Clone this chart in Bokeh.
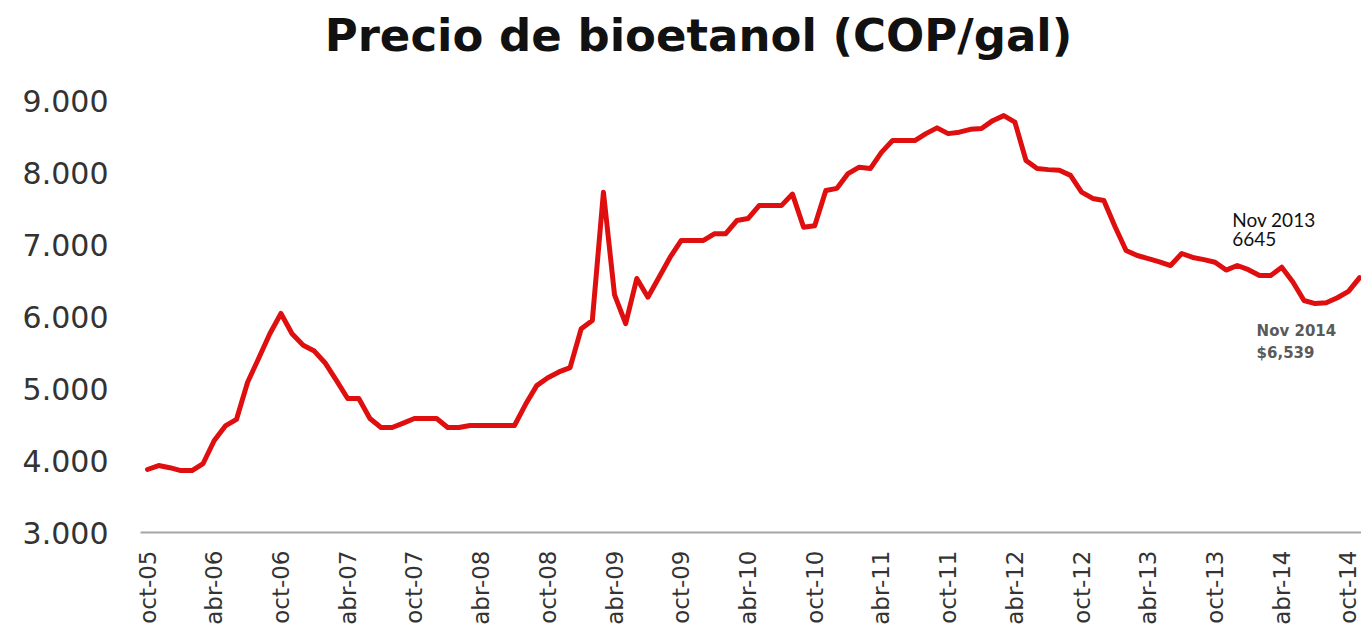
from bokeh.plotting import figure
from bokeh.models import Range1d, FixedTicker, Label
from bokeh.embed import file_html
from bokeh.resources import INLINE

# Monthly bioethanol price (COP/gal), oct-05 .. nov-14
precio = [
    3875, 3930, 3900, 3860, 3860, 3958, 4278, 4480, 4570, 5087,
    5420, 5760, 6042, 5760, 5600, 5520, 5350, 5110, 4861, 4861,
    4583, 4458, 4458, 4520, 4583, 4583, 4583, 4458, 4458, 4486,
    4486, 4486, 4486, 4486, 4780, 5040, 5150, 5230, 5290, 5830,
    5944, 7727, 6300, 5900, 6528, 6268, 6546, 6824, 7056, 7056,
    7056, 7150, 7150, 7333, 7360, 7540, 7540, 7540, 7700, 7240,
    7260, 7750, 7780, 7985, 8074, 8055, 8280, 8444, 8444, 8444,
    8540, 8620, 8540, 8560, 8600, 8611, 8720, 8790, 8700, 8167,
    8055, 8040, 8030, 7960, 7727, 7640, 7611, 7250, 6917, 6847,
    6805, 6760, 6708, 6875, 6820, 6790, 6754, 6645, 6708, 6650,
    6569, 6569, 6685, 6480, 6222, 6180, 6190, 6260, 6350, 6539,
]
meses = list(range(len(precio)))

x_tick_pos = list(range(0, 109, 6))
x_tick_labels = ["oct-05", "abr-06", "oct-06", "abr-07", "oct-07", "abr-08",
                 "oct-08", "abr-09", "oct-09", "abr-10", "oct-10", "abr-11",
                 "oct-11", "abr-12", "oct-12", "abr-13", "oct-13", "abr-14",
                 "oct-14"]
y_ticks = [3000, 4000, 5000, 6000, 7000, 8000, 9000]
y_tick_labels = ["3.000", "4.000", "5.000", "6.000", "7.000", "8.000", "9.000"]

titulo = "Precio de bioetanol (COP/gal)"
nota_2013 = ["Nov 2013", "6645"]
nota_2014 = ["Nov 2014", "$6,539"]
idx_2013 = 97
idx_2014 = 109

# frame spans the full height; the space above 9.000 holds the title
p = figure(width=1361, height=638, output_backend="svg", toolbar_location=None,
           x_range=Range1d(-0.63, 109.17), y_range=Range1d(3000, 10389),
           min_border_left=140, min_border_right=0, min_border_top=0,
           min_border_bottom=106)
p.outline_line_color = None
p.xgrid.grid_line_color = None
p.ygrid.grid_line_color = None
p.background_fill_color = "white"
p.border_fill_color = "white"

p.line(meses, precio, line_color="#E00F0F", line_width=5, line_join="round",
       line_cap="round")

# x axis
xa = p.xaxis[0]
xa.ticker = FixedTicker(ticks=x_tick_pos)
xa.major_label_overrides = {t: l for t, l in zip(x_tick_pos, x_tick_labels)}
xa.major_label_orientation = 1.5708
xa.major_label_text_font = "DejaVu Sans"
xa.major_label_text_font_size = "23px"
xa.major_label_text_color = "#333333"
xa.major_tick_line_color = None
xa.minor_tick_line_color = None
xa.axis_line_color = "#A6A6A6"
xa.axis_line_width = 2
xa.major_label_standoff = 12

# y axis
ya = p.yaxis[0]
ya.ticker = FixedTicker(ticks=y_ticks)
ya.major_label_overrides = {t: l for t, l in zip(y_ticks, y_tick_labels)}
ya.major_label_text_font = "DejaVu Sans"
ya.major_label_text_font_size = "30px"
ya.major_label_text_color = "#333333"
ya.major_tick_line_color = None
ya.minor_tick_line_color = None
ya.axis_line_color = None
ya.major_label_standoff = 26

# title
p.add_layout(Label(x=558, y=497, x_units="screen", y_units="screen",
                   text=titulo, text_font="DejaVu Sans", text_font_style="bold",
                   text_font_size="45px", text_color="#111111",
                   text_align="center", text_baseline="alphabetic"))

# annotations
for k, t in enumerate(nota_2013):
    p.add_layout(Label(x=idx_2013, y=precio[idx_2013], x_offset=6,
                       y_offset=62 - 24 * k, text=t, text_font="Lato",
                       text_font_size="19px", text_color="#111111",
                       text_align="left", text_baseline="top"))
for k, t in enumerate(nota_2014):
    p.add_layout(Label(x=idx_2014, y=precio[idx_2014], x_offset=-103,
                       y_offset=-44 - 22 * k, text=t, text_font="DejaVu Sans",
                       text_font_style="bold", text_font_size="15px",
                       text_color="#5A5A5A",
                       text_align="left", text_baseline="top"))

open("out.html", "w").write(file_html(p, INLINE))
